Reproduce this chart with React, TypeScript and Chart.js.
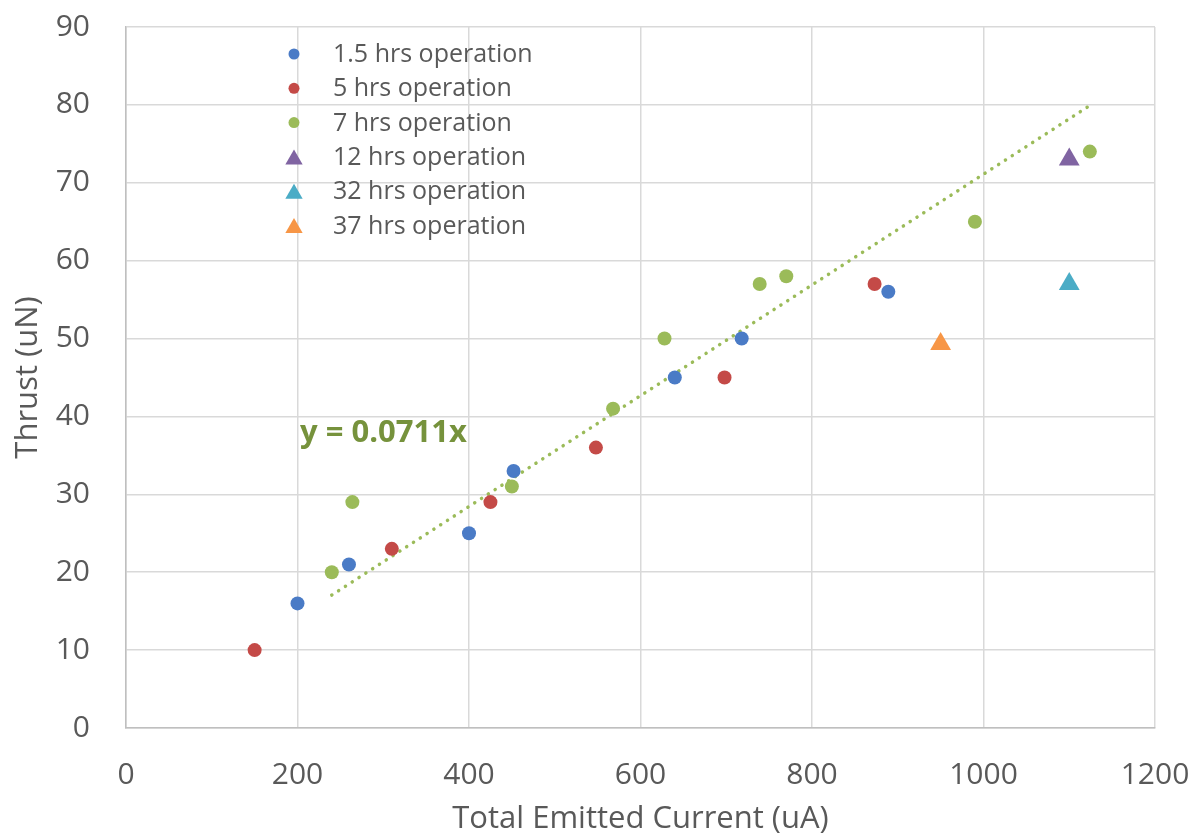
import React, { useEffect, useRef } from "react";
import { Chart, registerables } from "chart.js";

Chart.register(...registerables);

// ---- data ----
const seriesLabels = [
  "1.5 hrs operation",
  "5 hrs operation",
  "7 hrs operation",
  "12 hrs operation",
  "32 hrs operation",
  "37 hrs operation",
];
const seriesColors = ["#4a7bc6", "#c44a47", "#9bbb59", "#8064a2", "#4bacc6", "#f79646"];
const seriesStyles = ["circle", "circle", "circle", "triangle", "triangle", "triangle"];

const hrs1_5X = [200, 260, 400, 452, 640, 718, 889];
const hrs1_5Y = [16, 21, 25, 33, 45, 50, 56];

const hrs5X = [150, 310, 425, 548, 698, 873];
const hrs5Y = [10, 23, 29, 36, 45, 57];

const hrs7X = [240, 264, 450, 568, 628, 739, 770, 990, 1124];
const hrs7Y = [20, 29, 31, 41, 50, 57, 58, 65, 74];

const hrs12X = [1100];
const hrs12Y = [73];

const hrs32X = [1100];
const hrs32Y = [57];

const hrs37X = [950];
const hrs37Y = [49.3];

// trendline of the 7 hrs series: y = 0.0711x over its x range
const trendSlope = 0.0711;
const trendStartX = 240;
const trendEndX = 1124;
const trendLabel = "y = 0.0711x";
const trendLabelX = 203;
const trendLabelY = 37.9;

const xTicks = [0, 200, 400, 600, 800, 1000, 1200];
const yTicks = [0, 10, 20, 30, 40, 50, 60, 70, 80, 90];

const xTitle = "Total Emitted Current (uA)";
const yTitle = "Thrust (uN)";

const seriesX = [hrs1_5X, hrs5X, hrs7X, hrs12X, hrs32X, hrs37X];
const seriesY = [hrs1_5Y, hrs5Y, hrs7Y, hrs12Y, hrs32Y, hrs37Y];

const FONT = "'Open Sans', 'DejaVu Sans', sans-serif";
const TEXT = "#595959";

const insideLegend = {
  id: "insideLegend",
  afterDraw(chart: any) {
    const { ctx, chartArea } = chart;
    ctx.save();
    ctx.font = `25px ${FONT}`;
    ctx.textBaseline = "middle";
    ctx.textAlign = "left";
    seriesLabels.forEach((label, i) => {
      const cx = chartArea.left + 168;
      const cy = chartArea.top + 27 + i * 34.3;
      ctx.fillStyle = seriesColors[i];
      ctx.beginPath();
      if (seriesStyles[i] === "triangle") {
        const r = 10;
        const c = cy + r / 4;
        ctx.moveTo(cx, c - r);
        ctx.lineTo(cx + r * 0.866, c + r / 2);
        ctx.lineTo(cx - r * 0.866, c + r / 2);
        ctx.closePath();
      } else {
        ctx.arc(cx, cy, 5.5, 0, Math.PI * 2);
      }
      ctx.fill();
      ctx.fillStyle = TEXT;
      ctx.fillText(label, chartArea.left + 207, cy + 1);
    });
    ctx.restore();
  },
};

const trendAnnotation = {
  id: "trendAnnotation",
  afterDatasetsDraw(chart: any) {
    const { ctx, scales } = chart;
    ctx.save();
    ctx.font = `bold 31px ${FONT}`;
    ctx.fillStyle = "#76923c";
    ctx.textBaseline = "middle";
    ctx.textAlign = "left";
    ctx.fillText(trendLabel, scales.x.getPixelForValue(trendLabelX), scales.y.getPixelForValue(trendLabelY));
    ctx.restore();
  },
};

const zeroPad = (s: any) => {
  s.paddingLeft = 0;
  s.paddingRight = 0;
  s.paddingTop = 0;
  s.paddingBottom = 0;
};

export default function App() {
  const ref = useRef<HTMLCanvasElement | null>(null);

  useEffect(() => {
    if (!ref.current) return;
    const datasets: any[] = seriesLabels.map((label, i) => ({
      type: "scatter",
      label,
      data: seriesX[i].map((x, j) => ({ x, y: seriesY[i][j] })),
      backgroundColor: seriesColors[i],
      borderColor: seriesColors[i],
      borderWidth: 0,
      pointStyle: seriesStyles[i],
      pointRadius: seriesStyles[i] === "triangle" ? 12 : 7,
      order: 1,
    }));
    datasets.push({
      type: "line",
      label: "trend",
      data: [
        { x: trendStartX, y: trendSlope * trendStartX },
        { x: trendEndX, y: trendSlope * trendEndX },
      ],
      borderColor: "#9bbb59",
      borderWidth: 3.5,
      borderDash: [0.1, 8],
      borderCapStyle: "round",
      pointRadius: 0,
      fill: false,
      order: 2,
    });

    const chart = new Chart(ref.current, {
      type: "scatter",
      data: { datasets },
      plugins: [insideLegend, trendAnnotation],
      options: {
        animation: false,
        responsive: false,
        devicePixelRatio: 1,
        layout: { padding: { left: 0, right: 43, top: 27, bottom: 0 } },
        plugins: { legend: { display: false }, tooltip: { enabled: false } },
        scales: {
          x: {
            type: "linear",
            min: 0,
            max: 1200,
            afterBuildTicks: (s: any) => {
              s.ticks = xTicks.map((v) => ({ value: v }));
            },
            afterFit: (s: any) => {
              s.height = 109;
              zeroPad(s);
            },
            ticks: {
              color: TEXT,
              font: { family: FONT, size: 30 },
              padding: 29,
              maxRotation: 0,
              callback: (v: any) => String(v),
            },
            grid: { color: "#d9d9d9", lineWidth: 1.5, drawTicks: false },
            border: { color: "#bfbfbf", width: 1.5 },
            title: {
              display: true,
              text: xTitle,
              color: TEXT,
              font: { family: FONT, size: 31 },
              padding: { top: 0, bottom: -1 },
            },
          },
          y: {
            type: "linear",
            min: 0,
            max: 90,
            afterBuildTicks: (s: any) => {
              s.ticks = yTicks.map((v) => ({ value: v }));
            },
            afterFit: (s: any) => {
              s.width = 126;
              zeroPad(s);
            },
            ticks: {
              color: TEXT,
              font: { family: FONT, size: 30 },
              padding: 36,
              callback: (v: any) => String(v),
            },
            grid: { color: "#d9d9d9", lineWidth: 1.5, drawTicks: false },
            border: { color: "#bfbfbf", width: 1.5 },
            title: {
              display: true,
              text: yTitle,
              color: TEXT,
              font: { family: FONT, size: 31 },
              padding: { top: 10, bottom: 0 },
            },
          },
        },
      } as any,
    });
    return () => chart.destroy();
  }, []);

  return (
    <div style={{ position: "fixed", left: 0, top: 0, width: 1198, height: 837, background: "#fff" }}>
      <canvas ref={ref} width={1198} height={837} />
    </div>
  );
}
